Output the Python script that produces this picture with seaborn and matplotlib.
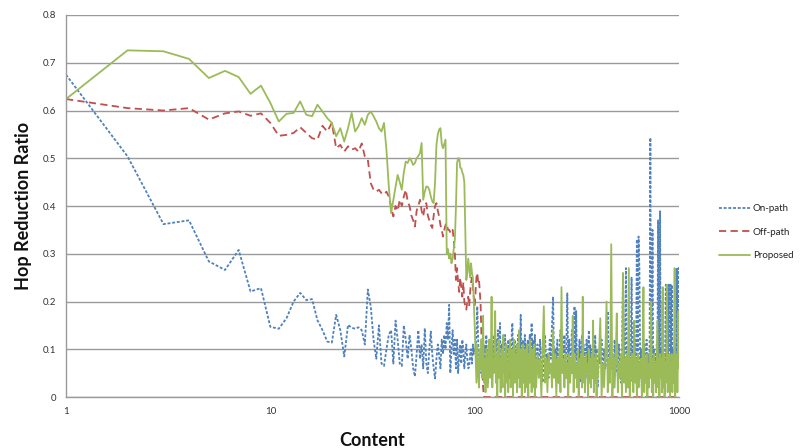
import matplotlib
matplotlib.use("Agg")
import matplotlib.pyplot as plt
import seaborn as sns
import pandas as pd
import numpy as np

# ---------------- data ----------------
series_names = ["On-path", "Off-path", "Proposed"]
series_colors = ["#4F81BD", "#C0504D", "#9BBB59"]

# content ids 1..199 (every id), then sampled ids in the noisy tail
x_head = list(range(1, 101))
x_tail = list(range(101, 200)) + list(range(200, 400, 3)) + list(range(400, 1001, 6))

on_head = [0.675, 0.504, 0.362, 0.370, 0.284, 0.266, 0.308, 0.221, 0.228, 0.147,
           0.143, 0.165, 0.200, 0.218, 0.203, 0.205, 0.161, 0.140, 0.116, 0.114,
           0.172, 0.140, 0.085, 0.151, 0.145, 0.143, 0.146, 0.140, 0.110, 0.225,
           0.190, 0.120, 0.080, 0.150, 0.070, 0.065, 0.100, 0.130, 0.140, 0.070,
           0.160, 0.120, 0.070, 0.065, 0.150, 0.120, 0.080, 0.130, 0.100, 0.060,
           0.043, 0.090, 0.140, 0.080, 0.110, 0.060, 0.144, 0.070, 0.050, 0.100,
           0.137, 0.090, 0.060, 0.039, 0.080, 0.110, 0.088, 0.060, 0.120, 0.090,
           0.130, 0.100, 0.155, 0.120, 0.193, 0.050, 0.100, 0.140, 0.090, 0.120,
           0.060, 0.120, 0.050, 0.090, 0.110, 0.070, 0.120, 0.100, 0.060, 0.090,
           0.110, 0.080, 0.060, 0.063, 0.090, 0.100, 0.070, 0.110, 0.090, 0.100]
on_tail = [
    # 101..199
    0.10, 0.13, 0.19, 0.12, 0.08, 0.05, 0.10, 0.07, 0.12, 0.04,
    0.09, 0.11, 0.06, 0.13, 0.08, 0.03, 0.10, 0.12, 0.06, 0.09,
    0.04, 0.11, 0.07, 0.13, 0.05, 0.09, 0.12, 0.03, 0.08, 0.14,
    0.06, 0.10, 0.155, 0.07, 0.04, 0.11, 0.08, 0.12, 0.05, 0.09,
    0.13, 0.06, 0.10, 0.03, 0.08, 0.12, 0.07, 0.04, 0.11, 0.09,
    0.05, 0.14, 0.155, 0.08, 0.04, 0.10, 0.12, 0.06, 0.09, 0.03,
    0.11, 0.07, 0.13, 0.05, 0.10, 0.14, 0.08, 0.172, 0.06, 0.09,
    0.04, 0.12, 0.07, 0.10, 0.05, 0.13, 0.08, 0.03, 0.11, 0.06,
    0.09, 0.12, 0.05, 0.10, 0.07, 0.13, 0.04, 0.09, 0.11, 0.155,
    0.08, 0.05, 0.12, 0.07, 0.10, 0.04, 0.13, 0.08, 0.06,
    # 200..398 step 3
    0.08, 0.11, 0.05, 0.12, 0.07, 0.03, 0.10, 0.13, 0.06, 0.09,
    0.04, 0.12, 0.08, 0.15, 0.21, 0.05, 0.10, 0.07, 0.12, 0.03,
    0.09, 0.14, 0.06, 0.11, 0.08, 0.13, 0.04, 0.10, 0.217, 0.07,
    0.12, 0.05, 0.09, 0.14, 0.06, 0.11, 0.19, 0.08, 0.18, 0.04,
    0.10, 0.07, 0.12, 0.03, 0.09, 0.13, 0.06, 0.11, 0.05, 0.10,
    0.08, 0.12, 0.04, 0.09, 0.14, 0.06, 0.11, 0.03, 0.10, 0.07,
    0.12, 0.05, 0.09, 0.13, 0.06, 0.10, 0.04,
    # 400..1000 step 6
    0.02, 0.09, 0.07, 0.12, 0.04, 0.10, 0.06,
    0.08, 0.18, 0.03, 0.11, 0.06, 0.09, 0.02, 0.12, 0.05, 0.10,
    0.04, 0.11, 0.07, 0.03, 0.09, 0.26, 0.05, 0.10, 0.27, 0.04,
    0.09, 0.02, 0.11, 0.06, 0.25, 0.03, 0.10, 0.05, 0.12, 0.07,
    0.33, 0.04, 0.336, 0.27, 0.06, 0.10, 0.02, 0.09, 0.05, 0.11,
    0.03, 0.08, 0.12, 0.04, 0.09, 0.06, 0.10, 0.543, 0.05, 0.09,
    0.35, 0.03, 0.10, 0.06, 0.09, 0.04, 0.11, 0.07, 0.37, 0.05,
    0.08, 0.389, 0.04, 0.10, 0.06, 0.20, 0.03, 0.09, 0.05, 0.11,
    0.235, 0.04, 0.235, 0.07, 0.10, 0.235, 0.03, 0.09, 0.235, 0.05,
    0.235, 0.06, 0.10, 0.03, 0.09, 0.05, 0.11, 0.04, 0.08, 0.27,
    0.06, 0.10, 0.27, 0.08]

off_x = list(range(1, 112)) + [1000]
off_vals = [0.624, 0.605, 0.600, 0.605, 0.581, 0.594, 0.598, 0.589, 0.594, 0.574,
            0.547, 0.549, 0.553, 0.565, 0.553, 0.542, 0.539, 0.568, 0.556, 0.574,
            0.521, 0.528, 0.514, 0.525, 0.518, 0.521, 0.514, 0.531, 0.504, 0.497,
            0.448, 0.434, 0.430, 0.434, 0.427, 0.424, 0.430, 0.420, 0.399, 0.378,
            0.400, 0.390, 0.413, 0.400, 0.420, 0.434, 0.410, 0.400, 0.380, 0.370,
            0.357, 0.390, 0.400, 0.413, 0.390, 0.378, 0.400, 0.406, 0.380, 0.370,
            0.360, 0.354, 0.380, 0.400, 0.406, 0.390, 0.378, 0.360, 0.350, 0.336,
            0.350, 0.360, 0.364, 0.350, 0.350, 0.345, 0.343, 0.350, 0.330, 0.300,
            0.245, 0.270, 0.240, 0.220, 0.250, 0.230, 0.210, 0.240, 0.200, 0.190,
            0.183, 0.200, 0.210, 0.190, 0.220, 0.240, 0.250, 0.230, 0.210, 0.190,
            0.220, 0.250, 0.260, 0.240, 0.245, 0.220, 0.190, 0.120, 0.060, 0.020,
            0.000, 0.000]

prop_head = [0.624, 0.726, 0.724, 0.708, 0.668, 0.683, 0.670, 0.635, 0.652, 0.616,
             0.577, 0.593, 0.595, 0.619, 0.591, 0.588, 0.612, 0.598, 0.584, 0.574,
             0.546, 0.563, 0.535, 0.563, 0.595, 0.556, 0.567, 0.584, 0.570, 0.591,
             0.598, 0.588, 0.577, 0.563, 0.556, 0.574, 0.518, 0.441, 0.385, 0.413,
             0.440, 0.465, 0.450, 0.434, 0.470, 0.493, 0.490, 0.500, 0.495, 0.486,
             0.490, 0.500, 0.505, 0.510, 0.532, 0.413, 0.430, 0.441, 0.440, 0.434,
             0.420, 0.410, 0.406, 0.450, 0.528, 0.550, 0.560, 0.563, 0.530, 0.521,
             0.530, 0.539, 0.300, 0.310, 0.290, 0.300, 0.280, 0.290, 0.310, 0.330,
             0.400, 0.490, 0.500, 0.500, 0.480, 0.479, 0.470, 0.465, 0.450, 0.350,
             0.245, 0.260, 0.290, 0.270, 0.250, 0.280, 0.260, 0.250, 0.200, 0.150]
prop_tail = [
    # 101..199
    0.09, 0.03, 0.11, 0.05, 0.02, 0.10, 0.06, 0.12, 0.04, 0.17,
    0.03, 0.08, 0.01, 0.10, 0.06, 0.02, 0.09, 0.12, 0.04, 0.07,
    0.21, 0.02, 0.08, 0.05, 0.11, 0.18, 0.03, 0.09, 0.00, 0.07,
    0.12, 0.04, 0.08, 0.01, 0.10, 0.06, 0.02, 0.13, 0.05, 0.09,
    0.00, 0.08, 0.11, 0.03, 0.07, 0.01, 0.10, 0.05, 0.12, 0.02,
    0.08, 0.04, 0.10, 0.00, 0.07, 0.12, 0.03, 0.09, 0.05, 0.08,
    0.01, 0.11, 0.04, 0.09, 0.14, 0.02, 0.08, 0.05, 0.10, 0.00,
    0.07, 0.11, 0.03, 0.09, 0.06, 0.01, 0.10, 0.04, 0.08, 0.02,
    0.11, 0.05, 0.00, 0.09, 0.07, 0.03, 0.12, 0.04, 0.08, 0.01,
    0.10, 0.06, 0.02, 0.09, 0.05, 0.11, 0.00, 0.08, 0.03,
    # 200..398 step 3
    0.02, 0.09, 0.04, 0.08, 0.00, 0.10, 0.19, 0.03, 0.08, 0.01,
    0.09, 0.05, 0.07, 0.02, 0.14, 0.04, 0.09, 0.00, 0.08, 0.03,
    0.10, 0.01, 0.23, 0.05, 0.08, 0.02, 0.09, 0.04, 0.07, 0.00,
    0.09, 0.03, 0.08, 0.05, 0.17, 0.01, 0.09, 0.04, 0.07, 0.02,
    0.10, 0.00, 0.08, 0.04, 0.09, 0.02, 0.21, 0.03, 0.08, 0.01,
    0.09, 0.05, 0.07, 0.00, 0.10, 0.03, 0.08, 0.02, 0.09, 0.04,
    0.16, 0.01, 0.08, 0.03, 0.09, 0.00, 0.07,
    # 400..1000 step 6
    0.04, 0.09, 0.165, 0.00, 0.07, 0.02, 0.09,
    0.20, 0.01, 0.08, 0.03, 0.32, 0.00, 0.09, 0.02, 0.08, 0.175,
    0.01, 0.07, 0.04, 0.09, 0.00, 0.26, 0.03, 0.08, 0.01, 0.09,
    0.02, 0.27, 0.00, 0.08, 0.04, 0.09, 0.01, 0.16, 0.03, 0.08,
    0.00, 0.09, 0.02, 0.07, 0.04, 0.08, 0.00, 0.10, 0.23, 0.01,
    0.08, 0.03, 0.09, 0.00, 0.07, 0.02, 0.09, 0.04, 0.20, 0.01,
    0.08, 0.00, 0.09, 0.03, 0.07, 0.01, 0.09, 0.16, 0.02, 0.08,
    0.00, 0.09, 0.04, 0.08, 0.01, 0.23, 0.02, 0.09, 0.00, 0.07,
    0.03, 0.09, 0.235, 0.01, 0.08, 0.04, 0.09, 0.00, 0.07, 0.02,
    0.09, 0.01, 0.08, 0.03, 0.09, 0.27, 0.00, 0.08, 0.02, 0.09,
    0.01, 0.08, 0.18, 0.06]

y_ticks = [0, 0.1, 0.2, 0.3, 0.4, 0.5, 0.6, 0.7, 0.8]
y_tick_labels = ["0", "0.1", "0.2", "0.3", "0.4", "0.5", "0.6", "0.7", "0.8"]
x_ticks = [1, 10, 100, 1000]
x_tick_labels = ["1", "10", "100", "1000"]

# ---------------- build table ----------------
x_on = x_head + x_tail
frames = [
    pd.DataFrame({"Content": x_on, "ratio": on_head + on_tail, "series": "On-path"}),
    pd.DataFrame({"Content": off_x, "ratio": off_vals, "series": "Off-path"}),
    pd.DataFrame({"Content": x_on, "ratio": prop_head + prop_tail, "series": "Proposed"}),
]
df = pd.concat(frames, ignore_index=True)

# ---------------- style ----------------
sns.set_style("white")
plt.rcParams["font.family"] = ["Lato", "DejaVu Sans"]

fig = plt.figure(figsize=(8.04, 4.48), dpi=100)
ax = fig.add_axes([66 / 804, 1 - 397 / 448, (679 - 66) / 804, (397 - 15) / 448])

palette = dict(zip(series_names, series_colors))
dashes = {"On-path": (1.6, 1.0), "Off-path": (4.0, 2.4), "Proposed": ""}
sns.lineplot(data=df, x="Content", y="ratio", hue="series", style="series",
             hue_order=series_names, style_order=series_names,
             palette=palette, dashes=dashes, estimator=None, linewidth=1.3,
             legend=False, ax=ax)

ax.set_xscale("log")
ax.set_xlim(1, 1000)
ax.set_ylim(0, 0.8)
ax.set_yticks(y_ticks)
ax.set_yticklabels(y_tick_labels)
ax.set_xticks(x_ticks)
ax.set_xticklabels(x_tick_labels)
ax.minorticks_off()

ax.grid(axis="y", color="#9a9a9a", linewidth=1.0)
ax.set_axisbelow(True)
for s in ["top", "right"]:
    ax.spines[s].set_visible(False)
for s in ["left", "bottom"]:
    ax.spines[s].set_color("#9a9a9a")
    ax.spines[s].set_linewidth(1.0)
ax.tick_params(axis="both", which="major", length=3, color="#9a9a9a",
               labelsize=7, labelcolor="#333333", pad=4, direction="out")

ax.set_xlabel("Content", fontsize=13, fontweight="bold", color="#111111", labelpad=12)
ax.set_ylabel("Hop Reduction Ratio", fontsize=13, fontweight="bold", color="#111111", labelpad=8)

handles = ax.lines[:3]
fig.legend(handles, series_names, loc="center left",
           bbox_to_anchor=(710 / 804, 1 - 232 / 448), frameon=False,
           fontsize=7, handlelength=3.2, handletextpad=0.3, labelspacing=1.5,
           labelcolor="#222222")

fig.savefig("out.png", dpi=100)
